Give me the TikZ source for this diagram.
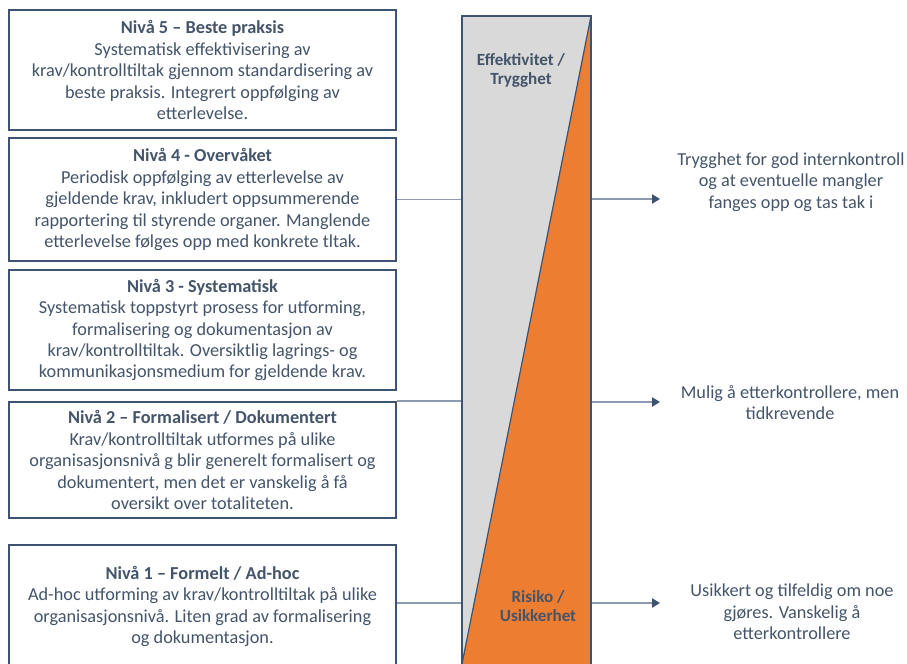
\documentclass[tikz,border=0pt]{standalone}
\usepackage{fontspec}
\setmainfont{Carlito}
\usepackage{tikz}
\usetikzlibrary{arrows.meta}
\definecolor{navy}{HTML}{3E5272}
\definecolor{tekst}{HTML}{44546A}
\definecolor{linje}{HTML}{8C9BB0}
\definecolor{grafyll}{HTML}{D9D9D9}
\definecolor{oransje}{HTML}{ED7D31}

\begin{document}
\begin{tikzpicture}[x=0.75pt,y=-0.75pt,
  nivaa/.style={draw=navy,line width=1.8pt,fill=white,text=tekst,align=center,
    minimum width=290pt,inner sep=0pt,font=\fontsize{13.7}{16.1}\selectfont},
  resultat/.style={text=tekst,align=center,inner sep=0pt,font=\fontsize{13.7}{16.1}\selectfont},
  stolpetekst/.style={text=tekst,align=center,inner sep=0pt,font=\bfseries\fontsize{12.8}{14.3}\selectfont},
  pil/.style={draw=linje,line width=1.2pt,-{Triangle[length=6pt,width=7pt,color=navy]}},
  strek/.style={draw=linje,line width=1.2pt}]
\useasboundingbox (0,0) rectangle (907,664);

% nivaaer
\node[nivaa,minimum height=90pt] (niva5) at (202.5,70) {\textbf{Nivå 5 – Beste praksis}\\
Systematisk effektivisering av\\krav/kontrolltiltak gjennom standardisering av\\
beste praksis. Integrert oppfølging av\\etterlevelse.};
\node[nivaa,minimum height=92pt] (niva4) at (202.5,199.5) {\textbf{Nivå 4 - Overvåket}\\
Periodisk oppfølging av etterlevelse av\\gjeldende krav, inkludert oppsummerende\\
rapportering til styrende organer. Manglende\\etterlevelse følges opp med konkrete tltak.};
\node[nivaa,minimum height=90pt] (niva3) at (202.5,330) {\textbf{Nivå 3 - Systematisk}\\
Systematisk toppstyrt prosess for utforming,\\formalisering og dokumentasjon av\\
krav/kontrolltiltak. Oversiktlig lagrings- og\\kommunikasjonsmedium for gjeldende krav.};
\node[nivaa,minimum height=87pt] (niva2) at (202.5,460) {\textbf{Nivå 2 – Formalisert / Dokumentert}\\
Krav/kontrolltiltak utformes på ulike\\organisasjonsnivå g blir generelt formalisert og\\
dokumentert, men det er vanskelig å få\\oversikt over totaliteten.};
\node[nivaa,minimum height=92pt] (niva1) at (202.5,606.5) {\textbf{Nivå 1 – Formelt / Ad-hoc}\\
Ad-hoc utforming av krav/kontrolltiltak på ulike\\organisasjonsnivå. Liten grad av formalisering\\
og dokumentasjon.};

% stolpen
\fill[grafyll] (462,16) rectangle (591,668);
\fill[oransje] (591,16) -- (462,664) -- (462,668) -- (591,668) -- cycle;
\draw[navy,line width=0.9pt] (591,16) -- (462,664);
\node[draw=navy,line width=1.8pt,minimum width=96.75pt,minimum height=489pt,inner sep=0pt]
  (stolpe) at (526.5,342) {};
\node[stolpetekst] (effekt) at (521,70) {Effektivitet /\\Trygghet};
\node[stolpetekst] (risiko) at (538,606) {Risiko /\\Usikkerhet};

% resultater
\node[resultat] (res4) at (791,182) {Trygghet for god internkontroll\\og at eventuelle mangler\\fanges opp og tas tak i};
\node[resultat] (res2) at (790,402.5) {Mulig å etterkontrollere, men\\tidkrevende};
\node[resultat] (res1) at (792,612) {Usikkert og tilfeldig om noe\\gjøres. Vanskelig å\\etterkontrollere};
\coordinate (spiss4) at (660,199);
\coordinate (spiss2) at (660,402);
\coordinate (spiss1) at (660,603);

% forbindelser
\draw[strek] (niva4.east) -- (niva4.east -| stolpe.west);
\draw[strek] (niva2.north east) -- (niva2.north east -| stolpe.west);
\draw[strek] (niva1.east |- spiss1) -- (spiss1 -| stolpe.west);
\draw[pil] (stolpe.east |- spiss4) -- (spiss4);
\draw[pil] (stolpe.east |- spiss2) -- (spiss2);
\draw[pil] (stolpe.east |- spiss1) -- (spiss1);
\end{tikzpicture}
\end{document}
